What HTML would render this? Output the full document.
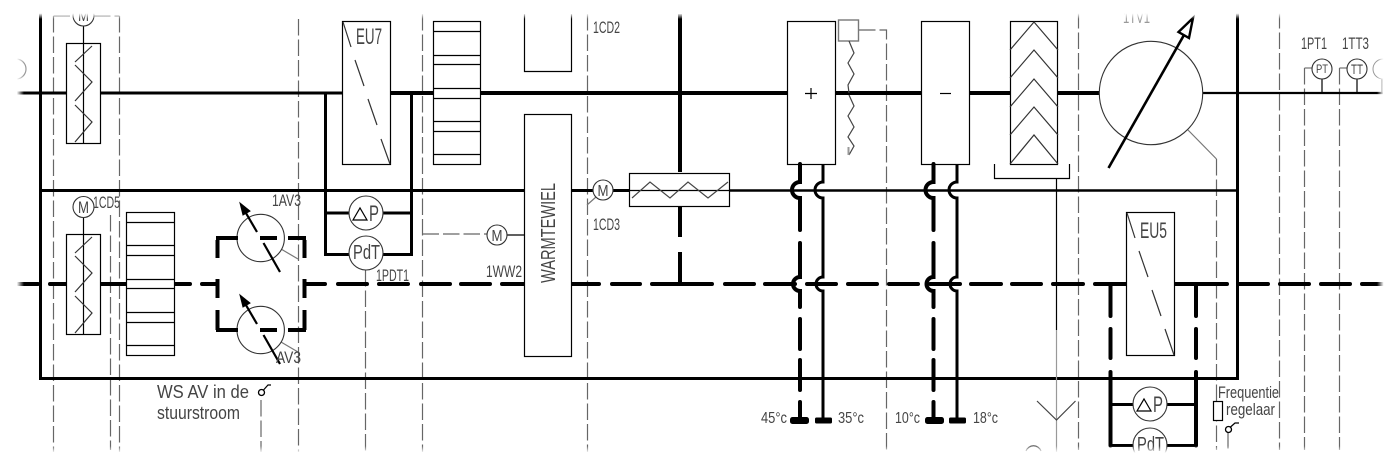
<!DOCTYPE html>
<html><head><meta charset="utf-8"><style>
html,body{margin:0;padding:0;background:#fff;width:1399px;height:469px;overflow:hidden}
svg{display:block}
text{font-family:"Liberation Sans",sans-serif;fill:#444}
.t{fill:none;stroke:#000;stroke-width:1.2}
.d{fill:none;stroke:#666;stroke-width:1.2;stroke-dasharray:16.5 4}
.g{fill:none;stroke:#777;stroke-width:1.2}
.h{fill:none;stroke:#000;stroke-width:3}
.hh{fill:none;stroke:#000;stroke-width:4;stroke-linecap:round}
.c{fill:#fff;stroke:#333;stroke-width:1.1}
</style></head><body>
<svg width="1399" height="469" viewBox="0 0 1399 469" xmlns="http://www.w3.org/2000/svg" font-size="17">
<rect width="1399" height="469" fill="#fff"/>

<!-- thin dashed control lines -->
<path class="d" d="M53.5 16H82M94 16H119.5M53.5 16V452M119.5 16V452M110.5 215V450M298.5 19V452M422.5 14V452M587.5 14V452M859 30H886.5V452M1078.5 12V450M1216.5 159V450M1279.5 12V450M1304.5 68V450M1339.5 68V450M261 400V452M365.5 270V452M1228 432V452M422.5 234H487"/>
<path class="g" d="M1188 130L1216.5 159M587 205L596 197M281 249L298 259M281 342L298 352M1304.5 68H1312M1339.5 68H1347"/>

<!-- frame -->
<path class="h" d="M40.5 12V378.5H1237.5V12"/>
<path class="h" d="M40 190.5H525M571 190.5H629"/>
<path d="M730 190.5H1237" fill="none" stroke="#000" stroke-width="2.4"/>

<!-- top duct -->
<path class="h" d="M15 93H342"/>
<path class="hh" style="stroke-linecap:butt" d="M390 93H433M481 93H787M835 93H921M969 93H1010M1057 93H1100"/>
<path d="M1203 93H1383" fill="none" stroke="#000" stroke-width="2.2"/>
<path class="hh" style="stroke-linecap:butt" d="M680 14V172M680 206V237M680 252V284"/>

<!-- lower dashed duct -->
<path class="hh" d="M18 284H38M50 284H67M100 284H127M173 284H190M202 284H217M305 284H325M338 284H367M379 284H408M421 284H450M461 284H490M502 284H525M571 284H599M612 284H640M652 284H712M725 284H754M765 284H795M807 284H836M848 284H877M889 284H918M930 284H960M971 284H1001M1012 284H1041M1053 284H1083M1095 284H1128M1174 284H1227M1239 284H1268M1280 284H1309M1321 284H1350M1362 284H1383"/>

<!-- left dampers -->
<rect x="66.5" y="43.5" width="34" height="100" class="t" style="fill:#fff"/>
<rect x="66.5" y="234.5" width="34" height="100" class="t" style="fill:#fff"/>
<path class="t" d="M83.5 25V143.5M83.5 216V334.5"/>
<path class="g" style="stroke:#333" d="M92 46L75 62M75 65L92 82L75 101M75 105L92 122L75 142M92 237L75 253M75 256L92 273L75 292M75 296L92 313L75 333"/>
<circle cx="83.5" cy="15.5" r="10.5" class="c"/>
<circle cx="83.5" cy="207" r="10.5" class="c"/>
<text x="78" y="21" textLength="11" lengthAdjust="spacingAndGlyphs" font-size="16">M</text>
<text x="78" y="213" textLength="11" lengthAdjust="spacingAndGlyphs" font-size="17">M</text>
<text x="93" y="208" textLength="27" lengthAdjust="spacingAndGlyphs">1CD5</text>
<path class="g" d="M16 59A10 10 0 0 1 16 79V93" style="stroke:#999"/>

<!-- filters -->
<rect x="433.5" y="21.5" width="47" height="143" class="t" style="fill:#fff"/>
<path class="t" d="M433 31.5H481M433 55.5H481M433 64.5H481M433 88.5H481M433 98.5H481M433 121.5H481M433 131.5H481M433 154.5H481"/>
<rect x="126.5" y="212.5" width="48" height="143" class="t" style="fill:#fff"/>
<path class="t" d="M126 222.5H175M126 245.5H175M126 255.5H175M126 279.5H175M126 288.5H175M126 312.5H175M126 322.5H175M126 345.5H175"/>
<path class="hh" style="stroke-linecap:butt" d="M100 284H127"/>

<!-- EU7 -->
<rect x="342.5" y="21.5" width="48" height="143" class="t" style="fill:#fff"/>
<path class="g" style="stroke:#333" d="M343 22L351 47M355 60L364 86M368 99L377 125M381 139L390 164"/>
<text x="356" y="44" textLength="26" lengthAdjust="spacingAndGlyphs" font-size="22">EU7</text>

<!-- left pressure -->
<path class="h" d="M325.5 93V254.5H349M411.5 93V254.5H383M325.5 213H349M383 213H411.5"/>
<circle cx="366" cy="213" r="17" class="c"/>
<circle cx="366" cy="253" r="17" class="c"/>
<path class="t" d="M353 220H367L360 208Z"/>
<text x="369" y="221" textLength="10" lengthAdjust="spacingAndGlyphs" font-size="22">P</text>
<text x="353" y="259" textLength="27" lengthAdjust="spacingAndGlyphs" font-size="20">PdT</text>
<text x="376" y="281" textLength="33" lengthAdjust="spacingAndGlyphs">1PDT1</text>

<!-- AV dampers -->
<circle cx="260.7" cy="238" r="23.7" class="c"/>
<circle cx="260.7" cy="330" r="23.7" class="c"/>
<path class="hh" style="stroke-linecap:butt" d="M217.5 240V258M217.5 279V298M217.5 310V330M304.5 240V258M304.5 279V298M304.5 310V330M216 238H238M260 238H277M288 238H306M216 330H238M260 330H277M288 330H306"/>
<path fill="none" stroke="#000" stroke-width="2.2" d="M243 208L257 232M263.5 243L280 272M243 300L257 324M263.5 335L280 364"/>
<path d="M240 203L250 211L243 215Z" fill="#000" stroke="#000"/>
<path d="M240 295L250 303L243 307Z" fill="#000" stroke="#000"/>
<text x="272" y="206" textLength="29" lengthAdjust="spacingAndGlyphs">1AV3</text>
<text x="276" y="363" textLength="25" lengthAdjust="spacingAndGlyphs">AV3</text>

<!-- wheel -->
<path class="t" d="M524.5 14V71.5H571.5V14"/>
<rect x="524.5" y="114.5" width="47" height="242" class="t" style="fill:#fff"/>
<text transform="translate(555,283) rotate(-90)" textLength="100" lengthAdjust="spacingAndGlyphs" font-size="20">WARMTEWIEL</text>
<text x="486" y="277" textLength="36" lengthAdjust="spacingAndGlyphs">1WW2</text>
<path class="t" d="M507 235H525"/>
<circle cx="497" cy="235" r="10" class="c"/>
<text x="491.5" y="241" textLength="11" lengthAdjust="spacingAndGlyphs" font-size="16">M</text>

<!-- CD3 coil -->
<rect x="629.5" y="173.5" width="100" height="33" class="t" style="fill:#fff"/>
<path class="t" d="M595 190.5H730"/>
<path class="g" style="stroke:#444" d="M632 198L650 182L670 198L688 182L708 198L728 182"/>
<circle cx="603" cy="190" r="10" class="c"/>
<text x="597.5" y="196" textLength="11" lengthAdjust="spacingAndGlyphs" font-size="16">M</text>
<text x="593" y="33" textLength="27" lengthAdjust="spacingAndGlyphs">1CD2</text>
<text x="593" y="230" textLength="27" lengthAdjust="spacingAndGlyphs">1CD3</text>

<!-- heater / cooler -->
<rect x="787.5" y="21.5" width="48" height="143" class="t" style="fill:#fff"/>
<path class="t" d="M805 93.5H817M811 88V99"/>
<rect x="921.5" y="21.5" width="48" height="143" class="t" style="fill:#fff"/>
<path class="t" d="M940 93.5H951"/>
<rect x="838.5" y="20" width="20" height="21" fill="#fff" stroke="#777" stroke-width="1.4"/>
<path class="g" style="stroke:#444" d="M849 41L854 53L848 63L854 74L848 85L849 93M849 95L854 106L848 116L854 127L848 137L854 146L849 155"/>
<path d="M848.5 147V155" stroke="#999" stroke-width="2"/>

<!-- water pipes -->
<g fill="none" stroke="#000">
<path stroke-width="4" stroke-linecap="round" d="M800 164V182A8 8 0 0 0 800 198V230M800 243V277A7 7 0 0 0 800 291V307M800 319V349M800 360V390M800 402V418M933.5 164V182A8 8 0 0 0 933.5 198V230M933.5 243V277A7 7 0 0 0 933.5 291V307M933.5 319V349M933.5 360V390M933.5 402V418"/>
<path stroke-width="3" d="M823 164V182A8 8 0 0 0 823 198V277A7 7 0 0 0 823 291V420M957 164V182A8 8 0 0 0 957 198V277A7 7 0 0 0 957 291V420"/>
</g>
<rect x="790" y="417" width="19" height="7" rx="2.5" fill="#000"/>
<rect x="815" y="417.5" width="17" height="6" rx="1.5" fill="#000"/>
<rect x="925" y="417" width="19" height="7" rx="2.5" fill="#000"/>
<rect x="949" y="417.5" width="17" height="6" rx="1.5" fill="#000"/>
<text x="761" y="423" textLength="26" lengthAdjust="spacingAndGlyphs" font-size="16">45°c</text>
<text x="838" y="423" textLength="26" lengthAdjust="spacingAndGlyphs" font-size="16">35°c</text>
<text x="895" y="423" textLength="25" lengthAdjust="spacingAndGlyphs" font-size="16">10°c</text>
<text x="973" y="423" textLength="25" lengthAdjust="spacingAndGlyphs" font-size="16">18°c</text>

<!-- eliminator -->
<rect x="1010.5" y="21.5" width="47" height="143" class="t" style="fill:#fff"/>
<path class="g" style="stroke:#333" d="M1010 50L1034 22L1058 50M1010 78L1034 50L1058 78M1010 107L1034 79L1058 107M1010 135L1034 107L1058 135M1010 164L1034 135L1058 164"/>
<path class="t" d="M994.5 164V178.5H1069.5V164M1056.5 178V330"/>
<path class="g" style="stroke:#999" d="M1056.5 330V452"/>
<path class="g" style="stroke:#444" d="M1037 401L1056.5 420L1075.5 401"/>
<path class="g" style="stroke:#666" d="M1026 451A8 8 0 0 1 1041 451"/>

<!-- fan -->
<circle cx="1151" cy="93" r="51.7" class="c"/>
<path fill="none" stroke="#000" stroke-width="2.6" d="M1108.5 168L1184 35"/>
<path d="M1193 18L1178.5 32L1189 38Z" fill="#fff" stroke="#000" stroke-width="2.4"/>
<text x="1123" y="23" textLength="27" lengthAdjust="spacingAndGlyphs" style="fill:#999">1TV1</text>

<!-- sensors -->
<path class="t" d="M1322 79V93M1357 79V93M1382 78V93"/>
<circle cx="1322" cy="69" r="10" class="c"/>
<circle cx="1357" cy="69" r="10" class="c"/>
<circle cx="1383" cy="69" r="10" fill="#fff" stroke="#999"/>
<text x="1316" y="73" textLength="12" lengthAdjust="spacingAndGlyphs" font-size="12">PT</text>
<text x="1351" y="74" textLength="12" lengthAdjust="spacingAndGlyphs" font-size="14">TT</text>
<text x="1301" y="49" textLength="26" lengthAdjust="spacingAndGlyphs">1PT1</text>
<text x="1342" y="49" textLength="27" lengthAdjust="spacingAndGlyphs">1TT3</text>

<!-- EU5 -->
<rect x="1126.5" y="212.5" width="48" height="143" class="t" style="fill:#fff"/>
<path class="g" style="stroke:#333" d="M1127 213L1135 238M1139 251L1148 277M1152 290L1161 316M1165 329L1174 355"/>
<text x="1140" y="238" textLength="27" lengthAdjust="spacingAndGlyphs" font-size="22">EU5</text>

<!-- right pressure -->
<path class="hh" d="M1110.5 286V316M1110.5 329V358M1110.5 372V445.5M1196 286V316M1196 329V358M1196 372V445.5"/>
<path class="h" d="M1110 404.5H1133M1167 404.5H1196M1110 445.5H1133M1167 445.5H1196"/>
<circle cx="1150" cy="404" r="17" class="c"/>
<circle cx="1150" cy="445" r="17" class="c"/>
<path class="t" d="M1137 411H1151L1144 399Z"/>
<text x="1153" y="412" textLength="10" lengthAdjust="spacingAndGlyphs" font-size="22">P</text>
<text x="1137" y="451" textLength="27" lengthAdjust="spacingAndGlyphs" font-size="20">PdT</text>

<!-- notes -->
<text x="157" y="398" textLength="92" lengthAdjust="spacingAndGlyphs" font-size="18">WS AV in de</text>
<text x="157" y="419" textLength="83" lengthAdjust="spacingAndGlyphs" font-size="18">stuurstroom</text>
<circle cx="261.5" cy="392.5" r="3" fill="#fff" stroke="#000" stroke-width="1.3"/>
<path class="t" d="M263.5 390L268 385H271"/>
<text x="1218" y="398" textLength="61" lengthAdjust="spacingAndGlyphs">Frequentie</text>
<text x="1226" y="415" textLength="49" lengthAdjust="spacingAndGlyphs">regelaar</text>
<rect x="1213.5" y="401.5" width="9" height="19" class="t" style="fill:#fff"/>
<circle cx="1228.5" cy="429.5" r="3" fill="#fff" stroke="#000" stroke-width="1.3"/>
<path class="t" d="M1230.5 427L1235 423H1239"/>

<!-- edge masks -->
<defs>
<linearGradient id="a" x1="0" y1="0" x2="0" y2="1"><stop offset="0.7" stop-color="#fff"/><stop offset="1" stop-color="#fff" stop-opacity="0"/></linearGradient>
<linearGradient id="b" x1="0" y1="1" x2="0" y2="0"><stop offset="0.7" stop-color="#fff"/><stop offset="1" stop-color="#fff" stop-opacity="0"/></linearGradient>
<linearGradient id="l" x1="0" y1="0" x2="1" y2="0"><stop offset="0.7" stop-color="#fff"/><stop offset="1" stop-color="#fff" stop-opacity="0"/></linearGradient>
<linearGradient id="r" x1="1" y1="0" x2="0" y2="0"><stop offset="0.7" stop-color="#fff"/><stop offset="1" stop-color="#fff" stop-opacity="0"/></linearGradient>
</defs>
<rect x="0" y="0" width="1399" height="19" fill="url(#a)"/>
<rect x="0" y="446" width="1399" height="23" fill="url(#b)"/>
<rect x="0" y="0" width="24" height="469" fill="url(#l)"/>
<rect x="1377" y="0" width="22" height="469" fill="url(#r)"/>
</svg>
</body></html>
